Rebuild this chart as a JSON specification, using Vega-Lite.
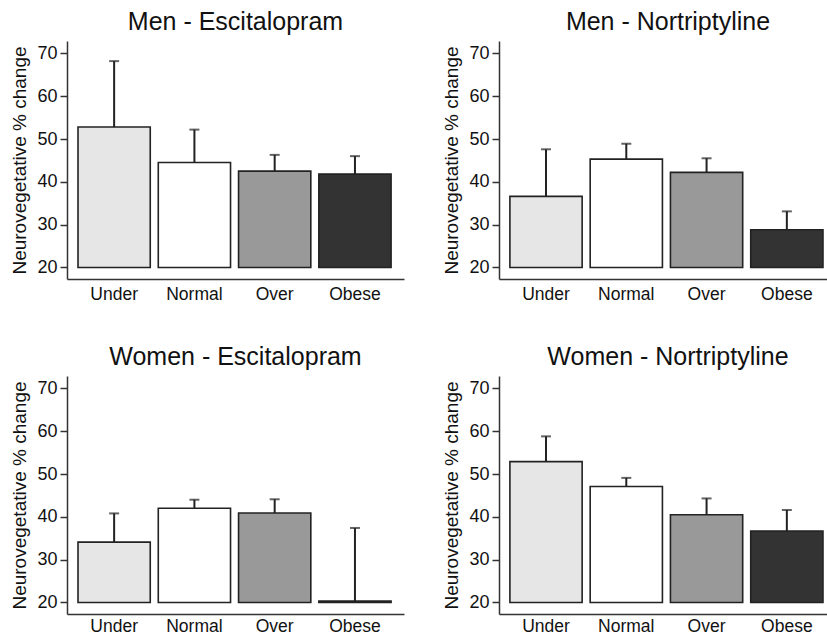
{
  "$schema": "https://vega.github.io/schema/vega-lite/v6.json",
  "background": "white",
  "padding": {"left": 10, "top": 10, "right": 0, "bottom": 0},
  "data": {"values": [
    {"panel": "Men - Escitalopram", "group": "Under", "mean": 52.8, "upper": 68.2},
    {"panel": "Men - Escitalopram", "group": "Normal", "mean": 44.5, "upper": 52.2},
    {"panel": "Men - Escitalopram", "group": "Over", "mean": 42.5, "upper": 46.3},
    {"panel": "Men - Escitalopram", "group": "Obese", "mean": 41.8, "upper": 46.0},
    {"panel": "Men - Nortriptyline", "group": "Under", "mean": 36.6, "upper": 47.6},
    {"panel": "Men - Nortriptyline", "group": "Normal", "mean": 45.3, "upper": 48.9},
    {"panel": "Men - Nortriptyline", "group": "Over", "mean": 42.2, "upper": 45.5},
    {"panel": "Men - Nortriptyline", "group": "Obese", "mean": 28.8, "upper": 33.1},
    {"panel": "Women - Escitalopram", "group": "Under", "mean": 34.1, "upper": 40.8},
    {"panel": "Women - Escitalopram", "group": "Normal", "mean": 42.0, "upper": 44.0},
    {"panel": "Women - Escitalopram", "group": "Over", "mean": 40.9, "upper": 44.1},
    {"panel": "Women - Escitalopram", "group": "Obese", "mean": 20.3, "upper": 37.4},
    {"panel": "Women - Nortriptyline", "group": "Under", "mean": 52.9, "upper": 58.8},
    {"panel": "Women - Nortriptyline", "group": "Normal", "mean": 47.1, "upper": 49.1},
    {"panel": "Women - Nortriptyline", "group": "Over", "mean": 40.5, "upper": 44.3},
    {"panel": "Women - Nortriptyline", "group": "Obese", "mean": 36.7, "upper": 41.6}
  ]},
  "config": {
    "font": "Liberation Sans",
    "view": {"stroke": null},
    "title": {"fontSize": 25, "fontWeight": "normal", "color": "#111", "anchor": "middle", "frame": "group", "offset": 6},
    "axisX": {"domainColor": "#333", "domainWidth": 1.5, "ticks": false, "labelFontSize": 17.5, "labelColor": "#111", "labelPadding": 6, "labelAngle": 0, "grid": false},
    "axisY": {"domainColor": "#333", "domainWidth": 1.5, "tickColor": "#333", "tickWidth": 1.5, "tickSize": 7, "labelFontSize": 18, "labelColor": "#111", "labelPadding": 3, "titleFontSize": 19, "titleFontWeight": "normal", "titleColor": "#111", "titlePadding": 7, "grid": false, "values": [20, 30, 40, 50, 60, 70]}
  },
  "vconcat": [
    {"hconcat": [
      {
        "width": 337, "height": 238,
        "title": "Men - Escitalopram",
        "transform": [{"filter": "datum.panel === 'Men - Escitalopram'"}],
        "encoding": {"x": {"field": "group", "type": "nominal", "sort": ["Under", "Normal", "Over", "Obese"], "title": null, "scale": {"paddingInner": 0.1, "paddingOuter": 0.149, "align": 0.46}}},
        "layer": [
          {"mark": {"type": "bar", "stroke": "#222", "strokeWidth": 1.6},
           "encoding": {"y": {"field": "mean", "type": "quantitative", "scale": {"domain": [17.3, 72.9], "nice": false, "zero": false}, "title": "Neurovegetative % change"},
                        "y2": {"datum": 20},
                        "fill": {"field": "group", "type": "nominal", "scale": {"domain": ["Under", "Normal", "Over", "Obese"], "range": ["#e6e6e6", "#ffffff", "#999999", "#333333"]}, "legend": null}}},
          {"mark": {"type": "rule", "color": "#222", "strokeWidth": 2},
           "encoding": {"y": {"field": "mean", "type": "quantitative"}, "y2": {"field": "upper"}}},
          {"mark": {"type": "tick", "color": "#222", "size": 10, "thickness": 2},
           "encoding": {"y": {"field": "upper", "type": "quantitative"}}}
        ]
      },
      {
        "width": 328, "height": 238,
        "title": {"text": "Men - Nortriptyline", "dx": 5},
        "transform": [{"filter": "datum.panel === 'Men - Nortriptyline'"}],
        "encoding": {"x": {"field": "group", "type": "nominal", "sort": ["Under", "Normal", "Over", "Obese"], "title": null, "scale": {"paddingInner": 0.1, "paddingOuter": 0.093, "align": 0.73}}},
        "layer": [
          {"mark": {"type": "bar", "stroke": "#222", "strokeWidth": 1.6},
           "encoding": {"y": {"field": "mean", "type": "quantitative", "scale": {"domain": [17.3, 72.9], "nice": false, "zero": false}, "title": "Neurovegetative % change"},
                        "y2": {"datum": 20},
                        "fill": {"field": "group", "type": "nominal", "scale": {"domain": ["Under", "Normal", "Over", "Obese"], "range": ["#e6e6e6", "#ffffff", "#999999", "#333333"]}, "legend": null}}},
          {"mark": {"type": "rule", "color": "#222", "strokeWidth": 2},
           "encoding": {"y": {"field": "mean", "type": "quantitative"}, "y2": {"field": "upper"}}},
          {"mark": {"type": "tick", "color": "#222", "size": 10, "thickness": 2},
           "encoding": {"y": {"field": "upper", "type": "quantitative"}}}
        ]
      }
    ], "spacing": 38},
    {"hconcat": [
      {
        "width": 337, "height": 238,
        "title": "Women - Escitalopram",
        "transform": [{"filter": "datum.panel === 'Women - Escitalopram'"}],
        "encoding": {"x": {"field": "group", "type": "nominal", "sort": ["Under", "Normal", "Over", "Obese"], "title": null, "axis": {"labelPadding": 3}, "scale": {"paddingInner": 0.1, "paddingOuter": 0.149, "align": 0.46}}},
        "layer": [
          {"mark": {"type": "bar", "stroke": "#222", "strokeWidth": 1.6},
           "encoding": {"y": {"field": "mean", "type": "quantitative", "scale": {"domain": [17.3, 72.9], "nice": false, "zero": false}, "title": "Neurovegetative % change"},
                        "y2": {"datum": 20},
                        "fill": {"field": "group", "type": "nominal", "scale": {"domain": ["Under", "Normal", "Over", "Obese"], "range": ["#e6e6e6", "#ffffff", "#999999", "#333333"]}, "legend": null}}},
          {"mark": {"type": "rule", "color": "#222", "strokeWidth": 2},
           "encoding": {"y": {"field": "mean", "type": "quantitative"}, "y2": {"field": "upper"}}},
          {"mark": {"type": "tick", "color": "#222", "size": 10, "thickness": 2},
           "encoding": {"y": {"field": "upper", "type": "quantitative"}}}
        ]
      },
      {
        "width": 328, "height": 238,
        "title": {"text": "Women - Nortriptyline", "dx": 5},
        "transform": [{"filter": "datum.panel === 'Women - Nortriptyline'"}],
        "encoding": {"x": {"field": "group", "type": "nominal", "sort": ["Under", "Normal", "Over", "Obese"], "title": null, "axis": {"labelPadding": 3}, "scale": {"paddingInner": 0.1, "paddingOuter": 0.093, "align": 0.73}}},
        "layer": [
          {"mark": {"type": "bar", "stroke": "#222", "strokeWidth": 1.6},
           "encoding": {"y": {"field": "mean", "type": "quantitative", "scale": {"domain": [17.3, 72.9], "nice": false, "zero": false}, "title": "Neurovegetative % change"},
                        "y2": {"datum": 20},
                        "fill": {"field": "group", "type": "nominal", "scale": {"domain": ["Under", "Normal", "Over", "Obese"], "range": ["#e6e6e6", "#ffffff", "#999999", "#333333"]}, "legend": null}}},
          {"mark": {"type": "rule", "color": "#222", "strokeWidth": 2},
           "encoding": {"y": {"field": "mean", "type": "quantitative"}, "y2": {"field": "upper"}}},
          {"mark": {"type": "tick", "color": "#222", "size": 10, "thickness": 2},
           "encoding": {"y": {"field": "upper", "type": "quantitative"}}}
        ]
      }
    ], "spacing": 38}
  ],
  "spacing": 42,
  "resolve": {"scale": {"x": "independent", "y": "independent", "fill": "shared"}}
}
